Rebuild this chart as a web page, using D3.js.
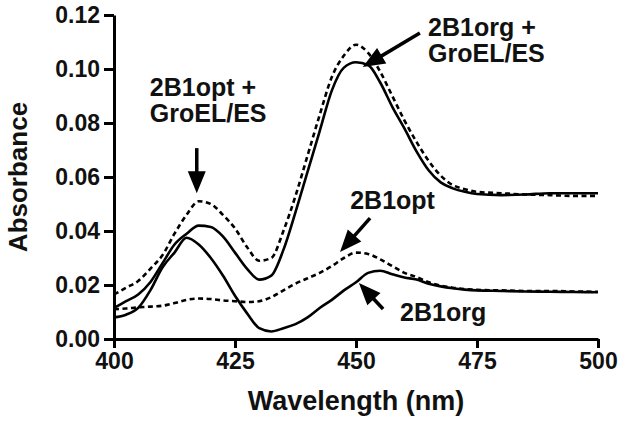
<!DOCTYPE html>
<html>
<head>
<meta charset="utf-8">
<script src="https://cdn.jsdelivr.net/npm/d3@7"></script>
<style>
  body { margin: 0; background: #fff; }
  svg { display: block; font-family: 'Liberation Sans', Arial, sans-serif; font-weight: bold; }
</style>
</head>
<body>
<div id="chart"></div>
<script>
// wavelengths (nm) shared by every trace
var wavelengths = [400, 402.5, 405, 407.5, 410, 412.5, 415, 417.5, 420, 422.5, 425, 427.5,
  430, 432.5, 435, 437.5, 440, 442.5, 445, 447.5, 450, 452.5, 455, 457.5, 460, 462.5,
  465, 467.5, 470, 472.5, 475, 480, 485, 490, 495, 500];

// 2B1opt + GroEL/ES (dashed)
var optGroEL = [0.0165, 0.019, 0.0215, 0.026, 0.031, 0.039, 0.046, 0.051, 0.050, 0.046, 0.041, 0.034,
  0.029, 0.030, 0.040, 0.053, 0.068, 0.083, 0.097, 0.105, 0.109, 0.106, 0.099, 0.090, 0.081, 0.073,
  0.066, 0.0605, 0.057, 0.0555, 0.0545, 0.054, 0.0535, 0.0533, 0.053, 0.053];

// 2B1org + GroEL/ES (solid)
var orgGroEL = [0.0115, 0.014, 0.0165, 0.021, 0.028, 0.035, 0.039, 0.042, 0.0415, 0.038, 0.032, 0.026,
  0.022, 0.0235, 0.033, 0.047, 0.062, 0.077, 0.092, 0.1005, 0.1025, 0.1015, 0.095, 0.086, 0.078, 0.0695,
  0.0625, 0.058, 0.0558, 0.0545, 0.0537, 0.0533, 0.0535, 0.054, 0.054, 0.054];

// 2B1opt (dashed)
var opt = [0.011, 0.0113, 0.0117, 0.012, 0.0123, 0.0133, 0.0145, 0.015, 0.0148, 0.0143, 0.014, 0.0137,
  0.014, 0.0155, 0.018, 0.0205, 0.0225, 0.0245, 0.027, 0.030, 0.032, 0.0315, 0.0295, 0.027, 0.0245, 0.023,
  0.021, 0.0198, 0.019, 0.0185, 0.0182, 0.018, 0.0178, 0.0178, 0.0176, 0.0175];

// 2B1org (solid)
var org = [0.008, 0.009, 0.0115, 0.018, 0.0265, 0.032, 0.0375, 0.035, 0.030, 0.0235, 0.016, 0.0095,
  0.004, 0.0028, 0.004, 0.0055, 0.008, 0.0115, 0.0145, 0.018, 0.021, 0.0245, 0.0253, 0.024, 0.0228, 0.022,
  0.0205, 0.0195, 0.0188, 0.0183, 0.018, 0.0178, 0.0176, 0.0175, 0.0174, 0.0173];

var xTicks = [400, 425, 450, 475, 500];
var yTicks = [0.00, 0.02, 0.04, 0.06, 0.08, 0.10, 0.12];

var series = [
  { name: '2B1opt + GroEL/ES', values: optGroEL, dashed: true },
  { name: '2B1org + GroEL/ES', values: orgGroEL, dashed: false },
  { name: '2B1opt', values: opt, dashed: true },
  { name: '2B1org', values: org, dashed: false }
];

// annotations: text lines at a data position, arrow from tail to tip (data coords)
var labels = [
  { lines: ['2B1opt +', 'GroEL/ES'], wl: 407.4, ab: 0.0900 },
  { lines: ['2B1org +', 'GroEL/ES'], wl: 464.9, ab: 0.1122 },
  { lines: ['2B1opt'], wl: 448.8, ab: 0.0481 },
  { lines: ['2B1org'], wl: 459.1, ab: 0.0068 }
];
var arrows = [
  { from: [417.1, 0.0707], to: [417.1, 0.0540] },
  { from: [463.2, 0.1133], to: [451.4, 0.1007] },
  { from: [452.9, 0.0448], to: [446.7, 0.0322] },
  { from: [455.6, 0.0111], to: [450.6, 0.0207] }
];

var visW = 624, visH = 422;
var padL = 114, padR = 598, padT = 15, padB = 339;

var svg = d3.select('#chart').append('svg')
  .attr('width', visW)
  .attr('height', visH);

var x = d3.scaleLinear().domain([400, 500]).range([padL, padR]);
var y = d3.scaleLinear().domain([0, 0.12]).range([padB, padT]);

/* axes */
var xAxis = svg.append('g')
  .attr('transform', 'translate(0,' + padB + ')')
  .call(d3.axisBottom(x).tickValues(xTicks).tickSize(9).tickSizeOuter(0).tickPadding(5));

var yAxis = svg.append('g')
  .attr('transform', 'translate(' + padL + ',0)')
  .call(d3.axisLeft(y).tickValues(yTicks).tickFormat(d3.format('.2f')).tickSize(10).tickSizeOuter(0).tickPadding(4));

[xAxis, yAxis].forEach(function(a) {
  a.select('.domain').attr('stroke', '#000').attr('stroke-width', 3);
  a.selectAll('.tick line').attr('stroke', '#000').attr('stroke-width', 3);
  a.selectAll('.tick text')
    .attr('fill', '#111')
    .style('font-family', "'Liberation Sans', Arial, sans-serif")
    .style('font-weight', 'bold')
    .style('font-size', '23px');
});

svg.append('text')
  .attr('x', (padL + padR) / 2)
  .attr('y', 410)
  .attr('text-anchor', 'middle')
  .style('font-size', '27px')
  .attr('fill', '#111')
  .text('Wavelength (nm)');

svg.append('text')
  .attr('transform', 'translate(27,' + ((padT + padB) / 2) + ') rotate(-90)')
  .attr('text-anchor', 'middle')
  .style('font-size', '26px')
  .attr('fill', '#111')
  .text('Absorbance');

/* traces */
var line = d3.line()
  .x(function(d) { return x(d[0]); })
  .y(function(d) { return y(d[1]); })
  .curve(d3.curveMonotoneX);

series.forEach(function(s) {
  var pts = wavelengths.map(function(w, i) { return [w, s.values[i]]; });
  svg.append('path')
    .datum(pts)
    .attr('d', line)
    .attr('fill', 'none')
    .attr('stroke', '#000')
    .attr('stroke-width', 2.6)
    .attr('stroke-dasharray', s.dashed ? '5,3.5' : null);
});

/* annotations */
labels.forEach(function(l) {
  var t = svg.append('text')
    .attr('x', x(l.wl))
    .attr('y', y(l.ab))
    .attr('fill', '#111')
    .style('font-size', '25px');
  l.lines.forEach(function(s, i) {
    t.append('tspan')
      .attr('x', x(l.wl))
      .attr('dy', i === 0 ? 0 : 26)
      .text(s);
  });
});

var headLen = 22, headHalf = 9;
arrows.forEach(function(a) {
  var x1 = x(a.from[0]), y1 = y(a.from[1]);
  var x2 = x(a.to[0]), y2 = y(a.to[1]);
  var len = Math.sqrt((x2 - x1) * (x2 - x1) + (y2 - y1) * (y2 - y1));
  var ux = (x2 - x1) / len, uy = (y2 - y1) / len;
  var bx = x2 - ux * headLen, by = y2 - uy * headLen;
  svg.append('line')
    .attr('x1', x1).attr('y1', y1)
    .attr('x2', bx + ux * 2).attr('y2', by + uy * 2)
    .attr('stroke', '#000')
    .attr('stroke-width', 3.5);
  svg.append('polygon')
    .attr('points', [
      [x2, y2],
      [bx - uy * headHalf, by + ux * headHalf],
      [bx + uy * headHalf, by - ux * headHalf]
    ].map(function(p) { return p.join(','); }).join(' '))
    .attr('fill', '#000');
});
</script>
</body>
</html>
